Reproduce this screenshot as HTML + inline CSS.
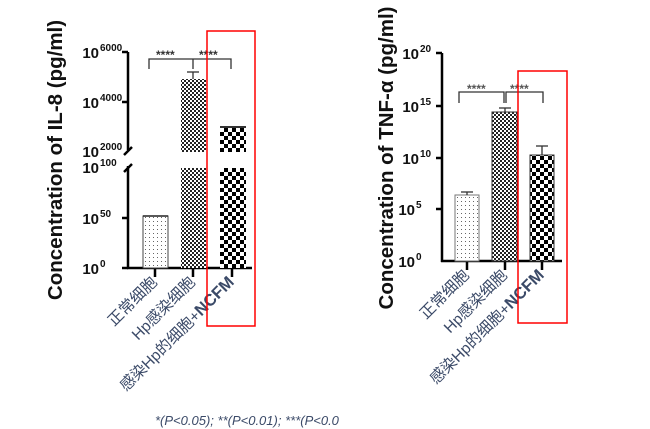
<!DOCTYPE html>
<html><head><meta charset="utf-8"><style>
body{margin:0;background:#fff;width:650px;height:429px;overflow:hidden}
svg{display:block}
.t{font-family:"Liberation Sans",sans-serif;font-weight:bold;fill:#111}
.c{font-family:"Liberation Sans","Noto Sans CJK SC",sans-serif;font-size:15.5px;fill:#3b4a68}
</style></head><body>
<svg width="650" height="429" viewBox="0 0 650 429">
<defs>
<pattern id="dot" width="4" height="4" patternUnits="userSpaceOnUse"><rect width="4" height="4" fill="#fff"/><rect x="1" y="1" width="1" height="1" fill="#666"/></pattern>
<pattern id="fine" width="4" height="4" patternUnits="userSpaceOnUse"><rect width="4" height="4" fill="#fff"/><rect width="2" height="2" fill="#222"/><rect x="2" y="2" width="2" height="2" fill="#222"/></pattern>
<pattern id="coarse" width="8" height="8" patternUnits="userSpaceOnUse"><rect width="8" height="8" fill="#fff"/><rect width="4" height="4" fill="#000"/><rect x="4" y="4" width="4" height="4" fill="#000"/></pattern>
</defs>

<!-- LEFT CHART -->
<text class="t" font-size="20.5" transform="translate(62,160) rotate(-90)" text-anchor="middle">Concentration of IL-8 (pg/ml)</text>
<g stroke="#000" stroke-width="2.5" fill="none">
<line x1="128" y1="52" x2="128" y2="150"/>
<line x1="128" y1="166" x2="128" y2="269"/>
<line x1="127" y1="268" x2="252" y2="268"/>
<line x1="122" y1="52" x2="128" y2="52"/><line x1="122" y1="102" x2="128" y2="102"/>
<line x1="122" y1="218" x2="128" y2="218"/><line x1="122" y1="268" x2="128" y2="268"/>
<line x1="124" y1="155" x2="132" y2="147"/><line x1="124" y1="172" x2="132" y2="164"/>
<line x1="155" y1="268" x2="155" y2="277"/><line x1="193" y1="268" x2="193" y2="277"/><line x1="232" y1="268" x2="232" y2="277"/>
</g>
<g class="t" font-size="15" text-anchor="end">
<text x="99" y="58">10</text><text x="99" y="108">10</text><text x="99" y="157">10</text><text x="99" y="173">10</text><text x="99" y="224">10</text><text x="99" y="274">10</text>
</g>
<g class="t" font-size="10">
<text x="100" y="51">6000</text><text x="100" y="101">4000</text><text x="100" y="150">2000</text><text x="100" y="166">100</text><text x="100" y="217">50</text><text x="100" y="267">0</text>
</g>
<rect x="143" y="216" width="25" height="52" fill="url(#dot)" stroke="#444"/>
<line x1="143" y1="216" x2="168" y2="216" stroke="#222" stroke-width="1.5"/>
<rect x="181" y="79" width="25" height="73" fill="url(#fine)"/>
<rect x="181" y="168" width="25" height="100" fill="url(#fine)"/>
<rect x="220" y="127" width="26" height="25" fill="url(#coarse)"/>
<rect x="220" y="168" width="26" height="100" fill="url(#coarse)"/>
<g stroke="#333" stroke-width="1.3" fill="none">
<line x1="193" y1="79" x2="193" y2="72"/><line x1="187" y1="72" x2="199" y2="72"/>
<line x1="220" y1="127" x2="246" y2="127" stroke-width="2"/>
<polyline points="149,69 149,59 231,59 231,69"/><line x1="193" y1="59" x2="193" y2="69"/>
</g>
<g font-family="Liberation Sans" font-size="12" font-weight="bold" fill="#333"><text x="156" y="59">****</text><text x="199" y="59">****</text></g>
<g class="c">
<text transform="translate(158,283) rotate(-45)" text-anchor="end">正常细胞</text>
<text transform="translate(196,283) rotate(-45)" text-anchor="end">Hp感染细胞</text>
<text transform="translate(235,283) rotate(-45)" text-anchor="end">感染Hp的细胞+<tspan font-weight="bold" font-size="16.5">NCFM</tspan></text>
</g>
<rect x="207" y="31" width="48" height="295" fill="none" stroke="#f00" stroke-width="1.5"/>

<!-- RIGHT CHART -->
<text class="t" font-size="20.5" transform="translate(393,158) rotate(-90)" text-anchor="middle">Concentration of TNF-α (pg/ml)</text>
<g stroke="#000" stroke-width="2.5" fill="none">
<line x1="442" y1="53" x2="442" y2="262"/>
<line x1="441" y1="261" x2="562" y2="261"/>
<line x1="436" y1="53" x2="442" y2="53"/><line x1="436" y1="106" x2="442" y2="106"/>
<line x1="436" y1="158" x2="442" y2="158"/><line x1="436" y1="209" x2="442" y2="209"/>
<line x1="467" y1="261" x2="467" y2="270"/><line x1="505" y1="261" x2="505" y2="270"/><line x1="542" y1="261" x2="542" y2="270"/>
</g>
<g class="t" font-size="15" text-anchor="end">
<text x="419" y="59">10</text><text x="419" y="112">10</text><text x="419" y="164">10</text><text x="415" y="215">10</text><text x="415" y="267">10</text>
</g>
<g class="t" font-size="10">
<text x="420" y="52">20</text><text x="420" y="105">15</text><text x="420" y="157">10</text><text x="416" y="208">5</text><text x="416" y="260">0</text>
</g>
<rect x="455" y="195" width="24" height="66" fill="url(#dot)" stroke="#777"/>
<rect x="492" y="112" width="25" height="149" fill="url(#fine)" stroke="#333"/>
<rect x="530" y="155" width="24" height="106" fill="url(#coarse)" stroke="#333"/>
<g stroke="#333" stroke-width="1.3" fill="none">
<line x1="467" y1="195" x2="467" y2="192"/><line x1="461" y1="192" x2="473" y2="192"/>
<line x1="505" y1="112" x2="505" y2="108"/><line x1="499" y1="108" x2="511" y2="108"/>
<line x1="542" y1="155" x2="542" y2="146"/><line x1="536" y1="146" x2="548" y2="146"/>
<polyline points="459,103 459,92 504,92 504,103"/><polyline points="506,103 506,92 543,92 543,103"/>
</g>
<g font-family="Liberation Sans" font-size="12" font-weight="bold" fill="#555"><text x="467" y="93">****</text><text x="510" y="93">****</text></g>
<g class="c">
<text transform="translate(470,276) rotate(-45)" text-anchor="end">正常细胞</text>
<text transform="translate(508,276) rotate(-45)" text-anchor="end">Hp感染细胞</text>
<text transform="translate(545,276) rotate(-45)" text-anchor="end">感染Hp的细胞+<tspan font-weight="bold" font-size="16.5">NCFM</tspan></text>
</g>
<rect x="518" y="71" width="49" height="252" fill="none" stroke="#f00" stroke-width="1.5"/>

<text x="155" y="425" font-family="Liberation Sans" font-style="italic" font-size="13" fill="#3b4a68">*(P&lt;0.05); **(P&lt;0.01); ***(P&lt;0.0</text>
</svg>
</body></html>
